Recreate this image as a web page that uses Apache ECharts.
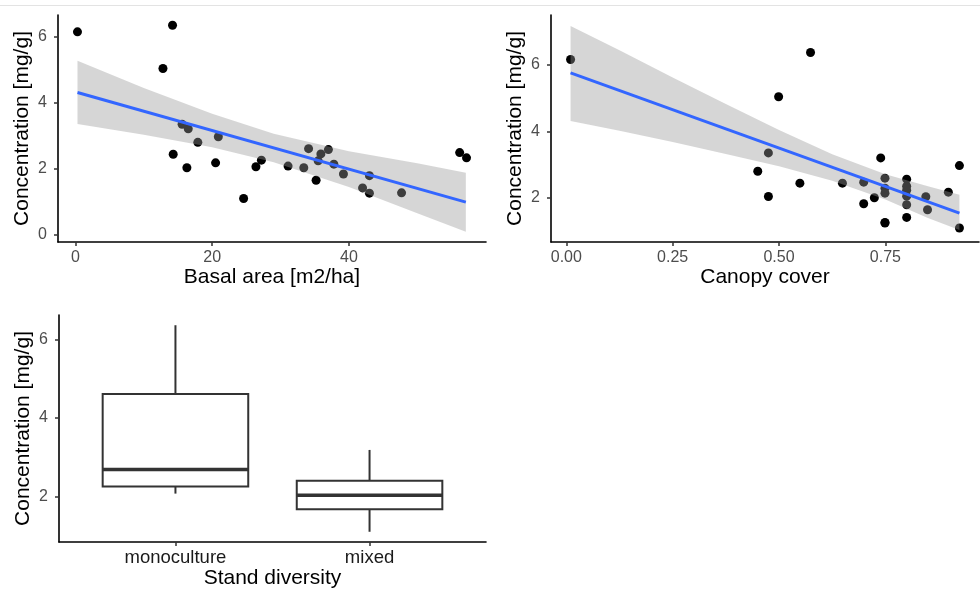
<!DOCTYPE html>
<html>
<head>
<meta charset="utf-8">
<script src="https://cdn.jsdelivr.net/npm/echarts@6/dist/echarts.min.js"></script>
<style>
  html, body { margin: 0; padding: 0; background: #fff; }
  #chart { width: 980px; height: 594px; }
</style>
</head>
<body>
<div id="chart"></div>
<script>
// basal area vs concentration
const basalArea = [0.3, 14.2, 12.8, 15.6, 16.5, 17.9, 20.9, 14.3, 16.3, 20.5, 24.6, 26.4, 27.2, 31.1,
  33.4, 34.1, 35.2, 35.5, 35.9, 37.0, 37.8, 39.2, 42.0, 43.0, 43.0, 47.7, 56.2, 57.2]
const concBasal = [6.14, 6.34, 5.03, 3.34, 3.20, 2.79, 2.96, 2.43, 2.02, 2.17, 1.09, 2.05, 2.25, 2.07,
  2.02, 2.60, 1.64, 2.23, 2.44, 2.57, 2.13, 1.83, 1.41, 1.78, 1.25, 1.26, 2.48, 2.32]
const basalFitX = [0.3, 57.1]
const basalFitY = [4.30, 0.98]
const basalBandX = [0.3, 10, 20, 29, 40, 50, 57.1]
const basalBandUpper = [5.26, 4.44, 3.66, 3.05, 2.52, 2.16, 1.87]
const basalBandLower = [3.35, 3.02, 2.64, 2.19, 1.44, 0.64, 0.08]

// canopy cover vs concentration
const canopyCover = [0.01, 0.574, 0.499, 0.475, 0.45, 0.475, 0.549, 0.649, 0.699, 0.699, 0.724, 0.739,
  0.749, 0.749, 0.749, 0.749, 0.80, 0.80, 0.80, 0.80, 0.80, 0.80, 0.845, 0.849, 0.898, 0.924, 0.924, 0.749]
const concCanopy = [6.16, 6.37, 5.04, 3.35, 2.80, 2.04, 2.44, 2.44, 2.47, 1.82, 2.00, 3.20,
  2.59, 2.29, 2.14, 1.24, 2.56, 2.35, 2.23, 2.05, 1.79, 1.41, 2.03, 1.64, 2.17, 2.97, 1.09, 1.26]
const canopyFitX = [0.01, 0.924]
const canopyFitY = [5.76, 1.54]
const canopyBandX = [0.01, 0.125, 0.25, 0.375, 0.5, 0.625, 0.75, 0.85, 0.924]
const canopyBandUpper = [7.17, 6.44, 5.62, 4.82, 4.04, 3.31, 2.71, 2.35, 2.09]
const canopyBandLower = [4.31, 4.02, 3.68, 3.32, 2.95, 2.51, 1.95, 1.39, 1.03]

// stand diversity boxplot
const diversity = ['monoculture', 'mixed']
const boxMin = [2.08, 1.11]
const boxQ1 = [2.26, 1.68]
const boxMedian = [2.69, 2.04]
const boxQ3 = [4.61, 2.41]
const boxMax = [6.36, 3.19]

const FONT = 'Liberation Sans, Arial, sans-serif'
const TICK_COLOR = '#4d4d4d'

const zip = (xs, ys) => xs.map((x, i) => [x, ys[i]])

const valueAxis = (opts) => ({
  type: 'value',
  min: opts.min,
  max: opts.max,
  name: opts.name,
  nameLocation: 'middle',
  nameGap: opts.nameGap,
  nameTextStyle: { color: '#000', fontSize: 21, fontFamily: FONT },
  gridIndex: opts.grid,
  axisLine: { show: true, onZero: false, lineStyle: { color: '#000', width: 1.6 } },
  axisTick: { show: true, length: 4, customValues: opts.ticks, lineStyle: { color: '#333', width: 1.5 } },
  axisLabel: {
    customValues: opts.ticks,
    margin: opts.margin,
    color: opts.labelColor || TICK_COLOR,
    fontSize: opts.fontSize || 16,
    fontFamily: FONT,
    formatter: opts.formatter
  },
  splitLine: { show: false }
})

// confidence band drawn over the points, as ggplot does
const bandSeries = (xAxisIndex, xs, upper, lower) => ({
  type: 'custom',
  xAxisIndex, yAxisIndex: xAxisIndex,
  silent: true,
  z: 5,
  data: [0],
  renderItem: (params, api) => {
    const top = xs.map((x, i) => api.coord([x, upper[i]]))
    const bottom = xs.map((x, i) => api.coord([x, lower[i]])).reverse()
    return {
      type: 'polygon',
      shape: { points: top.concat(bottom) },
      style: { fill: 'rgba(153,153,153,0.4)', stroke: null }
    }
  }
})

const scatterSeries = (idx, xs, ys) => ({
  type: 'scatter',
  xAxisIndex: idx, yAxisIndex: idx,
  z: 2,
  data: zip(xs, ys),
  symbolSize: 9,
  itemStyle: { color: '#000', opacity: 1 },
  silent: true
})

const fitSeries = (idx, xs, ys) => ({
  type: 'line',
  xAxisIndex: idx, yAxisIndex: idx,
  z: 8,
  data: zip(xs, ys),
  showSymbol: false,
  lineStyle: { color: '#3366FF', width: 3 },
  silent: true
})

const boxData = diversity.map((d, i) => [i + 1, boxMin[i], boxQ1[i], boxMedian[i], boxQ3[i], boxMax[i]])

const chart = echarts.init(document.getElementById('chart'))

chart.setOption({
  animation: false,
  backgroundColor: '#fff',
  graphic: [{
    type: 'line',
    shape: { x1: 0, y1: 5.5, x2: 980, y2: 5.5 },
    style: { stroke: '#e3e3e3', lineWidth: 1 }
  }],
  grid: [
    { left: 58, top: 15, width: 428, height: 227 },
    { left: 551, top: 15, width: 428, height: 227 },
    { left: 59, top: 315, width: 427, height: 227 }
  ],
  xAxis: [
    valueAxis({ grid: 0, min: -2.55, max: 60.05, ticks: [0, 20, 40], name: 'Basal area [m2/ha]', nameGap: 25, margin: 8 }),
    valueAxis({ grid: 1, min: -0.036, max: 0.97, ticks: [0, 0.25, 0.5, 0.75], name: 'Canopy cover', nameGap: 25, margin: 8,
      formatter: v => v.toFixed(2) }),
    valueAxis({ grid: 2, min: 0.4, max: 2.6, ticks: [1, 2], name: 'Stand diversity', nameGap: 26, margin: 6,
      labelColor: '#1a1a1a', fontSize: 18.5, formatter: v => diversity[Math.round(v) - 1] })
  ],
  yAxis: [
    valueAxis({ grid: 0, min: -0.23, max: 6.65, ticks: [0, 2, 4, 6], name: 'Concentration [mg/g]', nameGap: 25, margin: 11 }),
    valueAxis({ grid: 1, min: 0.67, max: 7.5, ticks: [2, 4, 6], name: 'Concentration [mg/g]', nameGap: 25, margin: 11 }),
    valueAxis({ grid: 2, min: 0.85, max: 6.62, ticks: [2, 4, 6], name: 'Concentration [mg/g]', nameGap: 25, margin: 11 })
  ],
  series: [
    scatterSeries(0, basalArea, concBasal),
    bandSeries(0, basalBandX, basalBandUpper, basalBandLower),
    fitSeries(0, basalFitX, basalFitY),
    scatterSeries(1, canopyCover, concCanopy),
    bandSeries(1, canopyBandX, canopyBandUpper, canopyBandLower),
    fitSeries(1, canopyFitX, canopyFitY),
    {
      type: 'custom',
      xAxisIndex: 2, yAxisIndex: 2,
      data: boxData,
      silent: true,
      renderItem: (params, api) => {
        const x = api.value(0)
        const half = 0.375
        const lowW = api.coord([x, api.value(1)])
        const q1L = api.coord([x - half, api.value(2)])
        const medL = api.coord([x - half, api.value(3)])
        const medR = api.coord([x + half, api.value(3)])
        const q3R = api.coord([x + half, api.value(4)])
        const q1C = api.coord([x, api.value(2)])
        const q3C = api.coord([x, api.value(4)])
        const highW = api.coord([x, api.value(5)])
        const stroke = { stroke: '#333', lineWidth: 2, fill: null }
        return {
          type: 'group',
          children: [
            { type: 'line', shape: { x1: q3C[0], y1: q3C[1], x2: highW[0], y2: highW[1] }, style: stroke },
            { type: 'line', shape: { x1: q1C[0], y1: q1C[1], x2: lowW[0], y2: lowW[1] }, style: stroke },
            {
              type: 'rect',
              shape: { x: q1L[0], y: q3R[1], width: q3R[0] - q1L[0], height: q1L[1] - q3R[1] },
              style: { fill: '#fff', stroke: '#333', lineWidth: 2 }
            },
            { type: 'line', shape: { x1: medL[0], y1: medL[1], x2: medR[0], y2: medR[1] },
              style: { stroke: '#333', lineWidth: 3.5 } }
          ]
        }
      }
    }
  ]
})
</script>
</body>
</html>
